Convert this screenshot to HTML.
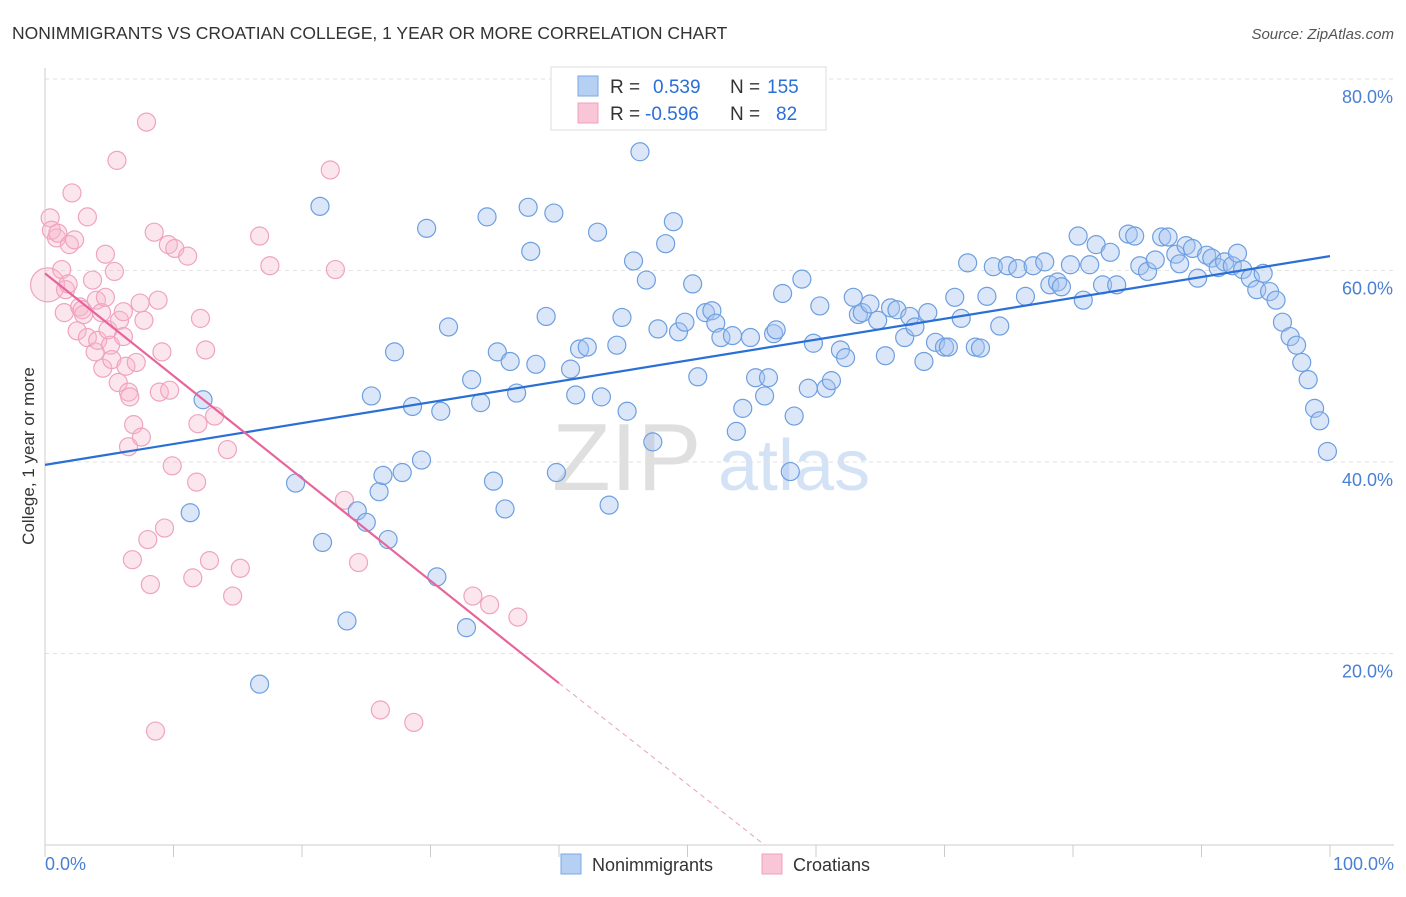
<!DOCTYPE html>
<html><head><meta charset="utf-8">
<style>
body{margin:0;background:#fff;font-family:"Liberation Sans",sans-serif;}
svg text{font-family:"Liberation Sans",sans-serif;}
</style></head>
<body>
<svg id="chart" width="1406" height="892" viewBox="0 0 1406 892" xmlns="http://www.w3.org/2000/svg">
<text x="12" y="39" font-size="17.5" fill="#333">NONIMMIGRANTS VS CROATIAN COLLEGE, 1 YEAR OR MORE CORRELATION CHART</text>
<text x="1394" y="39" font-size="15" fill="#555" text-anchor="end" font-style="italic">Source: ZipAtlas.com</text>
<g>
<text x="552" y="490" font-size="96" fill="#d8d8d8" font-family="Liberation Serif" opacity="0.8">ZIP</text>
<text x="718" y="490" font-size="72" fill="#c9dcf3" opacity="0.8">atlas</text>
</g>
<g id="grid"></g>
<g id="axes"></g>
<g id="pinkPts"></g>
<g id="bluePts"></g>
<g id="lines"></g>
<text transform="translate(34,456) rotate(-90)" font-size="17" fill="#333" text-anchor="middle">College, 1 year or more</text>
<g>
<rect x="551" y="67" width="275" height="63" fill="#fff" stroke="#ddd"/>
<rect x="578" y="76" width="20" height="20" fill="#b5d0f3" stroke="#7aa7e3"/>
<rect x="578" y="103" width="20" height="20" fill="#f8c6d6" stroke="#f0a0bc"/>
<text x="610" y="93" font-size="19" fill="#333">R =</text>
<text x="653" y="93" font-size="19" fill="#2a6fd6">0.539</text>
<text x="730" y="93" font-size="19" fill="#333">N =</text>
<text x="767" y="93" font-size="19" fill="#2a6fd6">155</text>
<text x="610" y="120" font-size="19" fill="#333">R =</text>
<text x="645" y="120" font-size="19" fill="#2a6fd6">-0.596</text>
<text x="730" y="120" font-size="19" fill="#333">N =</text>
<text x="776" y="120" font-size="19" fill="#2a6fd6">82</text>
</g>
<g>
<rect x="561" y="854" width="20" height="20" fill="#b5d0f3" stroke="#7aa7e3"/>
<text x="592" y="871" font-size="18" fill="#333">Nonimmigrants</text>
<rect x="762" y="854" width="20" height="20" fill="#f8c6d6" stroke="#f0a0bc"/>
<text x="793" y="871" font-size="18" fill="#333">Croatians</text>
</g>
</svg>
<script>
const blueX=[12.3,11.3,16.7,19.5,21.4,21.6,23.5,24.3,25.0,25.4,26.0,26.3,26.7,27.2,27.8,28.6,29.3,29.7,30.5,30.8,31.4,32.8,33.2,33.9,34.4,34.9,35.2,35.8,36.2,36.7,37.6,37.8,38.2,39.0,39.6,39.8,40.9,41.3,41.6,42.2,43.0,43.3,43.9,44.5,44.9,45.3,45.8,46.8,47.3,47.7,48.3,48.9,49.3,49.8,50.4,50.8,51.4,51.9,52.2,52.6,53.5,53.8,54.3,54.9,55.3,56.0,56.3,56.7,56.9,57.4,58.3,58.9,59.4,59.8,60.3,60.8,61.2,61.9,62.3,62.9,63.3,63.6,64.2,64.8,65.4,65.8,66.3,66.9,67.3,67.7,68.4,68.7,69.3,70.0,70.3,70.8,71.3,71.8,72.4,72.8,73.3,73.8,74.3,74.9,75.7,76.3,76.9,77.8,78.2,78.8,79.1,79.8,80.4,80.8,81.3,81.8,82.3,82.9,83.4,84.3,84.8,85.2,85.8,86.4,86.9,87.4,88.0,88.3,88.8,89.3,89.7,90.4,90.8,91.3,91.8,92.4,92.8,93.2,93.8,94.3,94.8,95.3,95.8,96.3,96.9,97.4,97.8,98.3,98.8,99.2,99.8,58.0,46.3];
const blueY=[46.5,34.7,16.8,37.8,66.7,31.6,23.4,34.9,33.7,46.9,36.9,38.6,31.9,51.5,38.9,45.8,40.2,64.4,28.0,45.3,54.1,22.7,48.6,46.2,65.6,38.0,51.5,35.1,50.5,47.2,66.6,62.0,50.2,55.2,66.0,38.9,49.7,47.0,51.8,52.0,64.0,46.8,35.5,52.2,55.1,45.3,61.0,59.0,42.1,53.9,62.8,65.1,53.6,54.6,58.6,48.9,55.6,55.8,54.5,53.0,53.2,43.2,45.6,53.0,48.8,46.9,48.8,53.4,53.8,57.6,44.8,59.1,47.7,52.4,56.3,47.7,48.5,51.7,50.9,57.2,55.4,55.6,56.5,54.8,51.1,56.1,55.9,53.0,55.2,54.1,50.5,55.6,52.5,52.0,52.0,57.2,55.0,60.8,52.0,51.9,57.3,60.4,54.2,60.5,60.2,57.3,60.5,60.9,58.5,58.8,58.3,60.6,63.6,56.9,60.6,62.7,58.5,61.9,58.5,63.8,63.6,60.5,59.9,61.1,63.5,63.5,61.7,60.7,62.6,62.3,59.2,61.6,61.3,60.3,60.9,60.5,61.8,60.1,59.2,58.0,59.7,57.8,56.9,54.6,53.1,52.2,50.4,48.6,45.6,44.3,41.1,39.0,72.4];
const pinkX=[0.2,0.4,0.5,0.9,1.0,1.3,1.5,1.6,1.8,1.9,2.1,2.3,2.5,2.7,2.9,3.0,3.3,3.3,3.7,3.9,4.0,4.1,4.4,4.5,4.7,4.7,4.9,5.1,5.2,5.4,5.6,5.7,5.8,6.1,6.1,6.3,6.5,6.5,6.6,6.8,6.9,7.1,7.4,7.5,7.7,7.9,8.0,8.2,8.5,8.8,8.9,9.1,9.3,9.6,9.7,9.9,10.1,11.1,11.5,11.8,11.9,12.1,12.5,12.8,13.2,14.2,14.6,15.2,16.7,17.5,22.2,22.6,23.3,24.4,26.1,28.7,33.3,34.6,36.8,8.6];
const pinkY=[58.5,65.5,64.2,63.4,63.9,60.1,55.6,58.0,58.6,62.7,68.1,63.2,53.7,56.2,55.9,55.4,65.6,53.0,59.0,51.5,56.9,52.7,55.6,49.8,57.2,61.7,53.8,52.2,50.7,59.9,71.5,48.3,54.8,53.1,55.7,50.0,47.3,41.6,46.8,29.8,43.9,50.4,56.6,42.6,54.8,75.5,31.9,27.2,64.0,56.9,47.3,51.5,33.1,62.7,47.5,39.6,62.3,61.5,27.9,37.9,44.0,55.0,51.7,29.7,44.8,41.3,26.0,28.9,63.6,60.5,70.5,60.1,36.0,29.5,14.1,12.8,26.0,25.1,23.8,11.9];
const yTicks=[20,40,60,80];
const yTickLabels=["20.0%","40.0%","60.0%","80.0%"];
const xTicks=[0,10,20,30,40,50,60,70,80,90,100];
const blueLine=[39.7,61.5];
const pinkLine=[59.7,16.9,40,0,56];

const NS="http://www.w3.org/2000/svg";
const X=v=>45+v*12.85, Y=v=>79+(80-v)*9.575;
function mk(t,a,p){const e=document.createElementNS(NS,t);for(const k in a)e.setAttribute(k,a[k]);p.appendChild(e);return e;}
const grid=document.getElementById('grid'),axes=document.getElementById('axes');
yTicks.forEach((t,i)=>{
 const l=mk('line',{x1:45,x2:1394,y1:Y(t),y2:Y(t),stroke:'#e2e2e2','stroke-dasharray':'4,4'},grid);
 
 
 const tx=mk('text',{x:1393,y:Y(t)+24,'font-size':18,fill:'#4a7fd4','text-anchor':'end'},axes);
 tx.textContent=yTickLabels[i];
 
 
});
mk('line',{x1:45,x2:1394,y1:Y(0),y2:Y(0),stroke:'#ccc'},axes);
mk('line',{x1:45,x2:45,y1:68,y2:Y(0),stroke:'#ccc'},axes);
xTicks.forEach(t=>{
 const l=mk('line',{x1:X(t),x2:X(t),y1:Y(0),y2:Y(0)+12,stroke:'#ccc'},axes);
 
 
});
const xl0=mk('text',{x:45,y:870,'font-size':18,fill:'#4a7fd4'},axes);xl0.textContent='0.0%';


const xl1=mk('text',{x:1394,y:870,'font-size':18,fill:'#4a7fd4','text-anchor':'end'},axes);xl1.textContent='100.0%';


const pp=document.getElementById('pinkPts');
pinkX.forEach((x,i)=>{
 const c=mk('circle',{cx:X(x),cy:Y(pinkY[i]),r:i===0?17:9,fill:'rgba(246,182,204,0.35)',stroke:'#f0a3bf','stroke-width':1.2},pp);
 
 
});
const bp=document.getElementById('bluePts');
blueX.forEach((x,i)=>{
 const c=mk('circle',{cx:X(x),cy:Y(blueY[i]),r:9,fill:'rgba(164,196,240,0.4)',stroke:'#6d9fe0','stroke-width':1.2},bp);
 
 
});
const lg=document.getElementById('lines');
const bl=mk('line',{x1:X(0),y1:Y(blueLine[0]),x2:X(100),y2:Y(blueLine[1]),stroke:'#2a6fd6','stroke-width':2.2},lg);


const pl=mk('line',{x1:X(0),y1:Y(pinkLine[0]),x2:X(pinkLine[2]),y2:Y(pinkLine[1]),stroke:'#e8649a','stroke-width':2.2},lg);


const pd=mk('line',{x1:X(pinkLine[2]),y1:Y(pinkLine[1]),x2:X(pinkLine[4]),y2:Y(pinkLine[3]),stroke:'#e8a0bc','stroke-width':1,'stroke-dasharray':'5,4'},lg);


</script>
</body></html>
